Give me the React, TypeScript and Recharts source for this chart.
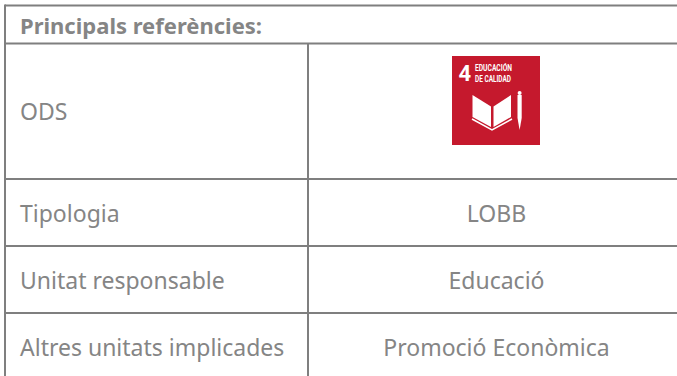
import { ScatterChart, Scatter, XAxis, YAxis, ReferenceLine } from 'recharts';

const WIDTH = 677;
const HEIGHT = 376;
const GREY = '#7f7f7f';
const TEXT_GREY = '#858585';
const FONT = '"Noto Sans", sans-serif';

const headerLabel = 'Principals referències:';
const rowLabels = ['ODS', 'Tipologia', 'Unitat responsable', 'Altres unitats implicades'];
const rowValues = ['', 'LOBB', 'Educació', 'Promoció Econòmica'];
const rowEdges = [43.5, 179, 246, 313, 380];
const topEdge = 5.5;
const leftEdge = 5;
const midEdge = 308;
const labelX = 20;
const valueX = 496.5;

const headerPoints = [{ x: labelX, y: (topEdge + rowEdges[0]) / 2, text: headerLabel }];
const labelPoints = rowLabels.map((text, i) => ({ x: labelX, y: (rowEdges[i] + rowEdges[i + 1]) / 2, text }));
const valuePoints = rowValues
  .map((text, i) => ({ x: valueX, y: (rowEdges[i] + rowEdges[i + 1]) / 2, text }))
  .filter((p) => p.text !== '');
const iconPoints = [{ x: 496, y: 100.5 }];

function CellText({ cx, cy, payload, anchor, bold }: any) {
  return (
    <text
      x={cx}
      y={cy + 9}
      textAnchor={anchor}
      fill={TEXT_GREY}
      fontFamily={FONT}
      fontSize={bold ? 22 : 23}
      fontWeight={bold ? 700 : 400}
    >
      {payload.text}
    </text>
  );
}

// SDG 4 tile, drawn around its centre
function OdsIcon({ cx, cy }: any) {
  return (
    <g transform={`translate(${cx - 44},${cy - 44.5})`}>
      <rect width={88} height={89} fill="#c5192d" />
      <text x={6.5} y={24.7} fill="#fff" fontFamily="Roboto, sans-serif" fontWeight={700} fontSize={22}>
        4
      </text>
      <text x={23} y={14.7} fill="#fff" fontFamily="Roboto, sans-serif" fontWeight={700} fontSize={9.5} textLength={37} lengthAdjust="spacingAndGlyphs">
        EDUCACIÓN
      </text>
      <text x={23} y={25.7} fill="#fff" fontFamily="Roboto, sans-serif" fontWeight={700} fontSize={9.5} textLength={36} lengthAdjust="spacingAndGlyphs">
        DE CALIDAD
      </text>
      <path d="M20.5 39 L39 50.5 L39 71 L20.5 61 Z" fill="#fff" />
      <path d="M41.5 50.5 L59 39 L59 61 L41.5 71 Z" fill="#fff" />
      <path d="M20 63 L40 74 L60 63" fill="none" stroke="#fff" strokeWidth={1.5} />
      <path d="M65.5 39 L69.7 39 L69.7 62 L67.6 74 L65.5 62 Z" fill="#fff" />
      <circle cx={67.6} cy={37} r={2} fill="#fff" />
    </g>
  );
}

export default function App() {
  const lineProps = { stroke: GREY, strokeWidth: 2, ifOverflow: 'visible' as const };
  return (
    <div style={{ position: 'absolute', left: 0, top: 0, background: '#fff' }}>
      <ScatterChart width={WIDTH} height={HEIGHT} margin={{ top: 0, right: 0, bottom: 0, left: 0 }}>
        <XAxis type="number" dataKey="x" domain={[0, WIDTH]} hide />
        <YAxis type="number" dataKey="y" domain={[0, HEIGHT]} reversed hide />

        {/* table borders */}
        <ReferenceLine segment={[{ x: leftEdge, y: topEdge }, { x: WIDTH, y: topEdge }]} {...lineProps} />
        {rowEdges.slice(0, -1).map((edge) => (
          <ReferenceLine key={edge} segment={[{ x: leftEdge, y: edge }, { x: WIDTH, y: edge }]} {...lineProps} />
        ))}
        <ReferenceLine segment={[{ x: leftEdge, y: topEdge - 1 }, { x: leftEdge, y: HEIGHT }]} {...lineProps} />
        <ReferenceLine segment={[{ x: midEdge, y: rowEdges[0] }, { x: midEdge, y: HEIGHT }]} {...lineProps} />

        <Scatter data={iconPoints} isAnimationActive={false} shape={<OdsIcon />} />
        <Scatter data={headerPoints} isAnimationActive={false} shape={<CellText anchor="start" bold />} />
        <Scatter data={labelPoints} isAnimationActive={false} shape={<CellText anchor="start" />} />
        <Scatter data={valuePoints} isAnimationActive={false} shape={<CellText anchor="middle" />} />
      </ScatterChart>
    </div>
  );
}
